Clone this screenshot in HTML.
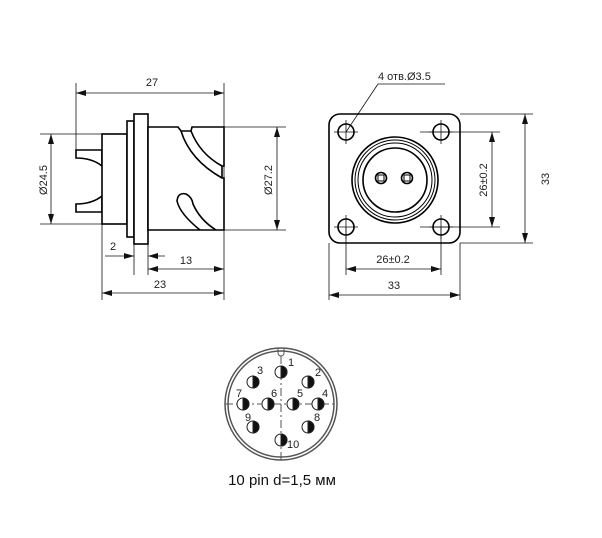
<!DOCTYPE html>
<html><head><meta charset="utf-8"><style>
body{margin:0;background:#fff}
svg{display:block}
text{font-family:"Liberation Sans",sans-serif;font-size:11px;fill:#222}
</style></head><body>
<svg width="602" height="538" viewBox="0 0 602 538" xmlns="http://www.w3.org/2000/svg">
<defs>
<marker id="a" viewBox="0 0 10 6" refX="10" refY="3" markerWidth="10" markerHeight="6" orient="auto-start-reverse" markerUnits="userSpaceOnUse"><path d="M0,0L10,3L0,6z" fill="#111"/></marker>
</defs>
<g stroke="#111" fill="none" stroke-width="0.8">
<line x1="76" y1="83" x2="76" y2="152"/>
<line x1="224" y1="83" x2="224" y2="300"/>
<line x1="102" y1="224" x2="102" y2="300"/>
<line x1="134" y1="244" x2="134" y2="275"/>
<line x1="148" y1="244" x2="148" y2="275"/>
<line x1="40" y1="134" x2="102" y2="134"/>
<line x1="40" y1="224" x2="102" y2="224"/>
<line x1="224" y1="127" x2="286" y2="127"/>
<line x1="224" y1="230" x2="286" y2="230"/>
<line x1="76" y1="93" x2="224" y2="93" marker-start="url(#a)" marker-end="url(#a)"/>
<line x1="51" y1="134" x2="51" y2="224" marker-start="url(#a)" marker-end="url(#a)"/>
<line x1="277" y1="127" x2="277" y2="230" marker-start="url(#a)" marker-end="url(#a)"/>
<line x1="105" y1="256" x2="134" y2="256" marker-end="url(#a)"/>
<line x1="165" y1="256" x2="148" y2="256" marker-end="url(#a)"/>
<line x1="148" y1="269" x2="224" y2="269" marker-start="url(#a)" marker-end="url(#a)"/>
<line x1="102" y1="293" x2="224" y2="293" marker-start="url(#a)" marker-end="url(#a)"/>
</g>
<g stroke="#000" fill="#fff" stroke-width="1.6">
<path d="M76,150 L102,150 L102,166 Q92,158 76,158 Z"/>
<path d="M76,212 L102,212 L102,196 Q92,204 76,204 Z"/>
<rect x="102" y="134" width="25" height="90"/>
<rect x="127" y="121" width="7" height="116"/>
<rect x="134" y="114" width="14" height="130"/>
<path d="M148,127 L178,127 L181,131 L191,131 L192,127 L224,127 L224,166 L222,166 L222,178 L224,178 L224,230 L148,230 Z"/>
<path d="M181,131 Q190,160 222,178 M191,131 Q200,154 222,166" fill="none"/>
<path d="M200,230 Q180,214 177,201 Q178,192 186,194 Q192,197 193,204 Q200,220 216,230" fill="none"/>
</g>
<text x="152" y="86" text-anchor="middle">27</text>
<text x="113" y="250" text-anchor="middle">2</text>
<text x="186" y="264" text-anchor="middle">13</text>
<text x="160" y="288" text-anchor="middle">23</text>
<text transform="translate(47,180) rotate(-90)" text-anchor="middle">Ø24.5</text>
<text transform="translate(272,180) rotate(-90)" text-anchor="middle">Ø27.2</text>

<g stroke="#111" fill="none" stroke-width="0.8">
<line x1="346" y1="132" x2="378" y2="84"/>
<line x1="378" y1="84" x2="445" y2="84"/>
<line x1="420" y1="132" x2="500" y2="132"/>
<line x1="420" y1="227" x2="500" y2="227"/>
<line x1="460" y1="114" x2="533" y2="114"/>
<line x1="460" y1="243" x2="533" y2="243"/>
<line x1="346" y1="227" x2="346" y2="275"/>
<line x1="441" y1="227" x2="441" y2="275"/>
<line x1="329" y1="243" x2="329" y2="300"/>
<line x1="460" y1="243" x2="460" y2="300"/>
<line x1="492" y1="132" x2="492" y2="227" marker-start="url(#a)" marker-end="url(#a)"/>
<line x1="525" y1="114" x2="525" y2="243" marker-start="url(#a)" marker-end="url(#a)"/>
<line x1="346" y1="269" x2="441" y2="269" marker-start="url(#a)" marker-end="url(#a)"/>
<line x1="329" y1="295" x2="460" y2="295" marker-start="url(#a)" marker-end="url(#a)"/>
<path d="M334,132H358M346,120V144M429,132H453M441,120V144M334,227H358M346,215V239M429,227H453M441,215V239"/>
</g>
<g stroke="#000" fill="none" stroke-width="1.6">
<rect x="329" y="114" width="131" height="129" rx="11"/>
<circle cx="346" cy="132" r="8"/><circle cx="441" cy="132" r="8"/>
<circle cx="346" cy="227" r="8"/><circle cx="441" cy="227" r="8"/>
<circle cx="395" cy="180" r="43"/>
<circle cx="395" cy="180" r="40" stroke-width="1"/>
<circle cx="395" cy="180" r="37" stroke-width="1"/>
<circle cx="395" cy="180" r="32"/>
<circle cx="381" cy="178" r="5.5"/><circle cx="407" cy="178" r="5.5"/>
<rect x="378" y="175" width="6" height="6" stroke-width="1"/>
<rect x="404" y="175" width="6" height="6" stroke-width="1"/>
</g>
<text x="378" y="80">4 отв.Ø3.5</text>
<text x="393" y="263" text-anchor="middle">26±0.2</text>
<text x="394" y="289" text-anchor="middle">33</text>
<text transform="translate(487,180) rotate(-90)" text-anchor="middle">26±0.2</text>
<text transform="translate(549,179) rotate(-90)" text-anchor="middle">33</text>

<g stroke="#555" fill="none">
<circle cx="281" cy="404" r="56" stroke-width="1.5"/>
<circle cx="281" cy="404" r="53" stroke-width="1.5"/>
<path d="M278,348 V353 A3,3 0 0 0 284,353 V348" stroke-width="1"/>
<path d="M281,356V460M225,404H337" stroke-width="1" stroke-dasharray="8,3,2,3"/>
</g>
<g stroke="#222" stroke-width="1">
<circle cx="281" cy="372" r="6" fill="#fff"/><path d="M281,366A6,6 0 0 1 281,378Z" fill="#111"/>
<circle cx="308" cy="382" r="6" fill="#fff"/><path d="M308,376A6,6 0 0 1 308,388Z" fill="#111"/>
<circle cx="253" cy="382" r="6" fill="#fff"/><path d="M253,376A6,6 0 0 1 253,388Z" fill="#111"/>
<circle cx="243" cy="404" r="6" fill="#fff"/><path d="M243,398A6,6 0 0 1 243,410Z" fill="#111"/>
<circle cx="268" cy="404" r="6" fill="#fff"/><path d="M268,398A6,6 0 0 1 268,410Z" fill="#111"/>
<circle cx="293" cy="404" r="6" fill="#fff"/><path d="M293,398A6,6 0 0 1 293,410Z" fill="#111"/>
<circle cx="318" cy="404" r="6" fill="#fff"/><path d="M318,398A6,6 0 0 1 318,410Z" fill="#111"/>
<circle cx="253" cy="427" r="6" fill="#fff"/><path d="M253,421A6,6 0 0 1 253,433Z" fill="#111"/>
<circle cx="308" cy="427" r="6" fill="#fff"/><path d="M308,421A6,6 0 0 1 308,433Z" fill="#111"/>
<circle cx="281" cy="440" r="6" fill="#fff"/><path d="M281,434A6,6 0 0 1 281,446Z" fill="#111"/>
</g>
<g style="font-size:5px;fill:#777">
<text x="288" y="366">1</text><text x="315" y="376">2</text><text x="257" y="374">3</text>
<text x="322" y="397">4</text><text x="297" y="397">5</text><text x="271" y="397">6</text>
<text x="236" y="397">7</text><text x="314" y="421">8</text><text x="245" y="421">9</text>
<text x="287" y="448">10</text>
</g>
<text x="282" y="485" text-anchor="middle" style="font-size:15px;fill:#111">10 pin d=1,5 мм</text>
</svg>
</body></html>
